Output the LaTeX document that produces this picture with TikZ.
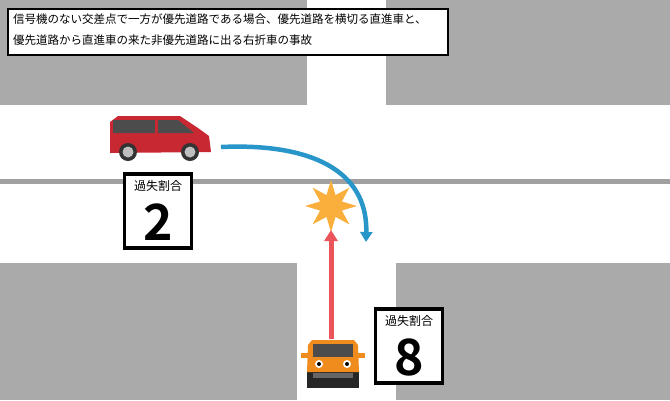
\documentclass[tikz,border=0pt]{standalone}
\usepackage{fontspec}
\newfontfamily\jp{Noto Sans CJK JP}
\newfontfamily\jpbold{Noto Sans CJK JP Bold}
\usetikzlibrary{shapes.geometric,arrows.meta}
\definecolor{roadgray}{RGB}{170,170,170}
\definecolor{linegray}{RGB}{160,160,160}
\definecolor{carred}{RGB}{200,40,50}
\definecolor{carorange}{RGB}{240,140,30}
\definecolor{arrowblue}{RGB}{40,150,200}
\definecolor{arrowred}{RGB}{235,85,90}
\definecolor{boomorange}{RGB}{250,175,60}
\tikzset{ratio/.style={draw,line width=3.5pt,fill=white,minimum width=67pt,minimum height=74pt,inner sep=0pt}}

\begin{document}
\begin{tikzpicture}[x=1pt,y=-1pt,font=\jp]
\useasboundingbox (0,0) rectangle (670,400);
% roads
\path[fill=roadgray] (0,0) rectangle (307,105);
\path[fill=roadgray] (386,0) rectangle (670,105);
\path[fill=roadgray] (0,263) rectangle (297,400);
\path[fill=roadgray] (396,263) rectangle (670,400);
\path[fill=linegray] (0,179) rectangle (670,184);
% title
\draw[line width=1.5pt,fill=white] (8,9) rectangle (448,55);
\node[anchor=north west,align=left,font=\jp\fontsize{11.5}{21}\selectfont,inner sep=0pt] (title) at (13,14)
  {信号機のない交差点で一方が優先道路である場合、優先道路を横切る直進車と、\\優先道路から直進車の来た非優先道路に出る右折車の事故};
% red car
\path[fill=carred] (110,122)--(118,116)--(180,116)--(198,128)--(209,136)--(211,152)--(110,153)--cycle;
\path[fill=black!70] (113,120)--(178,120)--(194,133)--(113,133)--cycle;
\path[fill=carred] (155,120) rectangle (158,133);
\foreach \cx in {128,190}{
  \path[fill=black!80] (\cx,152) circle (9);
  \path[fill=black!25] (\cx,152) circle (5.5);
}
\node[inner sep=0pt,minimum size=1pt] (redcar) at (160,140) {};
% orange car
\path[fill=black!85] (307,370) rectangle (359,388);
\path[fill=carorange] (308,345)--(312,340)--(354,340)--(358,345)--(359,372)--(307,372)--cycle;
\path[fill=black!70] (313,344) rectangle (353,357);
\path[fill=carorange] (301,353) rectangle (309,358);
\path[fill=carorange] (357,353) rectangle (365,358);
\path[fill=black!60] (313,373) rectangle (353,378);
\foreach \cx in {319,347}{
  \path[fill=white] (\cx,364) circle (4);
  \path[fill=black] (\cx,364) circle (2);
}
\node[inner sep=0pt,minimum size=1pt] (orangecar) at (331,340) {};
% crash
\node[star,star points=8,star point ratio=2.2,fill=boomorange,minimum size=52pt,inner sep=0pt] (crash) at (331,206) {};
% arrows
\coordinate (bluestart) at (221,147);
\coordinate (blueend) at (366,242);
\draw[arrowblue,line width=4.5pt,-{Triangle[width=12pt,length=10pt]}] (bluestart) .. controls (310,143) and (368,170) .. (blueend);
\draw[arrowred,line width=5pt,-{Triangle[width=13pt,length=11pt]}] (orangecar) -- (331,230);
% ratios
\node[ratio] (ratiored) at (158,211) {};
\node[font=\jp\fontsize{12}{14}\selectfont] (labelred) at (158,186) {過失割合};
\node[font=\jpbold\fontsize{50}{50}\selectfont] (numred) at (158,222) {2};
\node[ratio] (ratioorange) at (409,346) {};
\node[font=\jp\fontsize{12}{14}\selectfont] (labelorange) at (409,321) {過失割合};
\node[font=\jpbold\fontsize{50}{50}\selectfont] (numorange) at (409,357) {8};
\end{tikzpicture}
\end{document}
